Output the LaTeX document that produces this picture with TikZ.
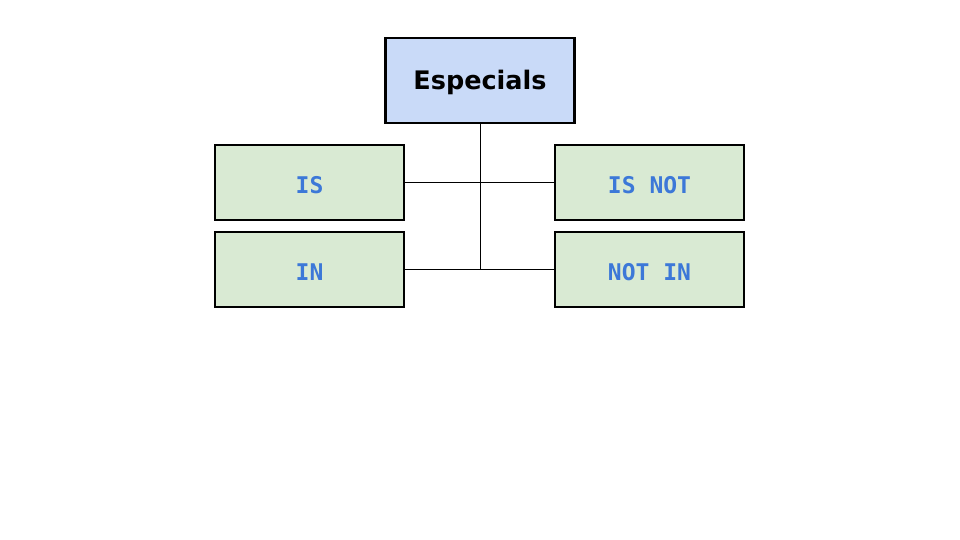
\documentclass[tikz,border=0pt]{standalone}
\usepackage{fontspec}
\setmainfont{DejaVu Sans}
\setmonofont{DejaVu Sans Mono}
\usepackage{tikz}
\usetikzlibrary{positioning}
\definecolor{headblue}{HTML}{C9DAF8}
\definecolor{opgreen}{HTML}{D9EAD3}
\definecolor{kwblue}{HTML}{3C78D8}
\tikzset{
  head/.style={draw, line width=2.6pt, fill=headblue, minimum width=189pt, minimum height=85pt, inner sep=0pt, text height=19pt, text depth=0pt, font=\fontsize{25.5}{28}\selectfont\bfseries},
  op/.style={draw, line width=1.4pt, fill=opgreen, minimum width=189pt, minimum height=75pt, inner sep=0pt, text height=21.5pt, text depth=0pt, text=kwblue, font=\fontsize{23}{26}\selectfont\ttfamily\bfseries},
  link/.style={line width=1pt}
}
\begin{document}
\begin{tikzpicture}[x=1pt,y=-1pt]
        \useasboundingbox (0,0) rectangle (960,540);
        % Nodes
        \node[head]                  (esp)   at (480,80.5)  {Especials};
        \node[op]                    (is)    at (309.5,182.5) {IS};
        \node[op, right=149.6pt of is] (isnot) {IS NOT};
        \node[op, below=10.6pt of is]  (in)    {IN};
        \node[op, right=149.6pt of in] (notin) {NOT IN};

        % Links
        \draw[link] (esp.south) -- (esp.south |- in.east);
        \draw[link] (is.east) -- (isnot.west);
        \draw[link] (in.east) -- (notin.west);
    \end{tikzpicture}
\end{document}
